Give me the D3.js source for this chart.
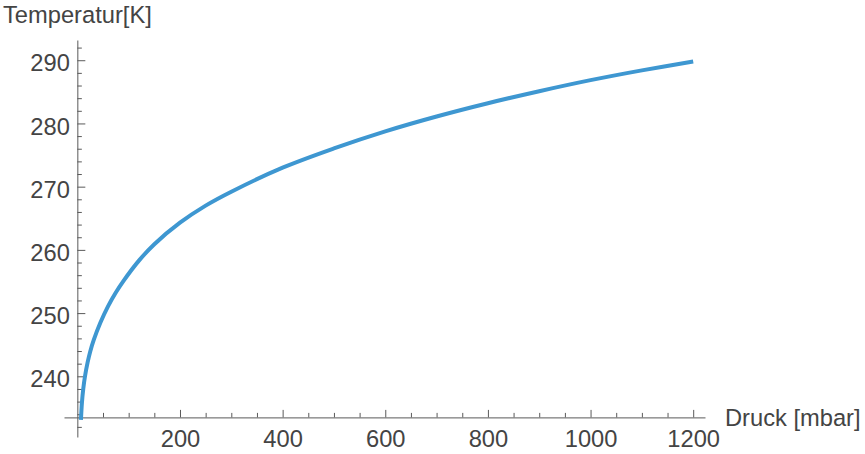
<!DOCTYPE html>
<html>
<head>
<meta charset="utf-8">
<script src="https://cdn.jsdelivr.net/npm/d3@7"></script>
<style>
  html, body { margin: 0; padding: 0; background: #fff; }
  svg { display: block; }
  text { font-family: "Liberation Sans", Arial, Helvetica, sans-serif; }
</style>
</head>
<body>
<script>
// Data (estimated along the curve)
const pressure = [7, 9, 11.5, 15, 20, 25, 32, 45, 60, 75, 90, 120, 150, 200, 250, 300, 400, 500, 600, 700, 800, 900, 1000, 1100, 1200];
const temperature = [233.1, 235.9, 238.0, 240.05, 242.2, 243.9, 245.75, 248.5, 251.1, 253.25, 255.1, 258.3, 260.9, 264.3, 267.0, 269.2, 273.0, 276.05, 278.75, 281.1, 283.2, 285.1, 286.85, 288.4, 289.8];
const xMajorTicks = [200, 400, 600, 800, 1000, 1200];
const xMinorTicks = [50, 100, 150, 250, 300, 350, 450, 500, 550, 650, 700, 750, 850, 900, 950, 1050, 1100, 1150];
const yMajorTicks = [240, 250, 260, 270, 280, 290];
const yMinorTicks = [232, 234, 236, 238, 242, 244, 246, 248, 252, 254, 256, 258, 262, 264, 266, 268, 272, 274, 276, 278, 282, 284, 286, 288, 292];
const xLabel = "Druck [mbar]";
const yLabel = "Temperatur[K]";
const xAxisAt = 233.5;

const W = 865, H = 454;
const svg = d3.select("body").append("svg").attr("width", W).attr("height", H);

const x = d3.scaleLinear().domain([-26, 1223]).range([64, 705]);
const y = d3.scaleLinear().domain([230.4, 293.2]).range([437, 40]);

const axisColor = "#5a5a5a";
const labelColor = "#444";
const fontSize = 23.7;
const fmt = d3.format("d");

// X axis
const gx = svg.append("g").attr("transform", `translate(0,${y(xAxisAt)})`);
gx.call(d3.axisBottom(x).tickValues(xMajorTicks).tickFormat(fmt).tickSizeInner(-7.5).tickSizeOuter(0).tickPadding(13));
const gxm = svg.append("g").attr("transform", `translate(0,${y(xAxisAt)})`);
gxm.call(d3.axisBottom(x).tickValues(xMinorTicks).tickSizeInner(-4.5).tickSizeOuter(0).tickFormat(""));
gxm.select(".domain").remove();

// Y axis
const gy = svg.append("g").attr("transform", `translate(${x(0)},0)`);
gy.call(d3.axisLeft(y).tickValues(yMajorTicks).tickFormat(fmt).tickSizeInner(-8).tickSizeOuter(0).tickPadding(7.5));
const gym = svg.append("g").attr("transform", `translate(${x(0)},0)`);
gym.call(d3.axisLeft(y).tickValues(yMinorTicks).tickSizeInner(-4.5).tickSizeOuter(0).tickFormat(""));
gym.select(".domain").remove();

svg.selectAll(".domain, .tick line").attr("stroke", axisColor).attr("stroke-width", 1);
svg.selectAll(".tick text")
  .attr("fill", labelColor)
  .style("font-size", fontSize + "px")
  .style("font-family", '"Liberation Sans", Arial, Helvetica, sans-serif');
gy.selectAll(".tick text").attr("dy", "0.45em");
gx.selectAll(".tick text").attr("dy", "0.71em");

// Axis labels
svg.append("text")
  .attr("x", 3).attr("y", 23)
  .attr("fill", labelColor)
  .style("font-size", fontSize + "px")
  .text(yLabel);
svg.append("text")
  .attr("x", 725).attr("y", y(xAxisAt) + 9)
  .attr("fill", labelColor)
  .style("font-size", fontSize + "px")
  .text(xLabel);

// Curve
const data = pressure.map((p, i) => ({ p, t: temperature[i] }));
const line = d3.line().x(d => x(d.p)).y(d => y(d.t)).curve(d3.curveCatmullRom.alpha(0.5));
svg.append("path")
  .datum(data)
  .attr("fill", "none")
  .attr("stroke", "#3e97d1")
  .attr("stroke-width", 4)
  .attr("stroke-linecap", "butt")
  .attr("d", line);
</script>
</body>
</html>
